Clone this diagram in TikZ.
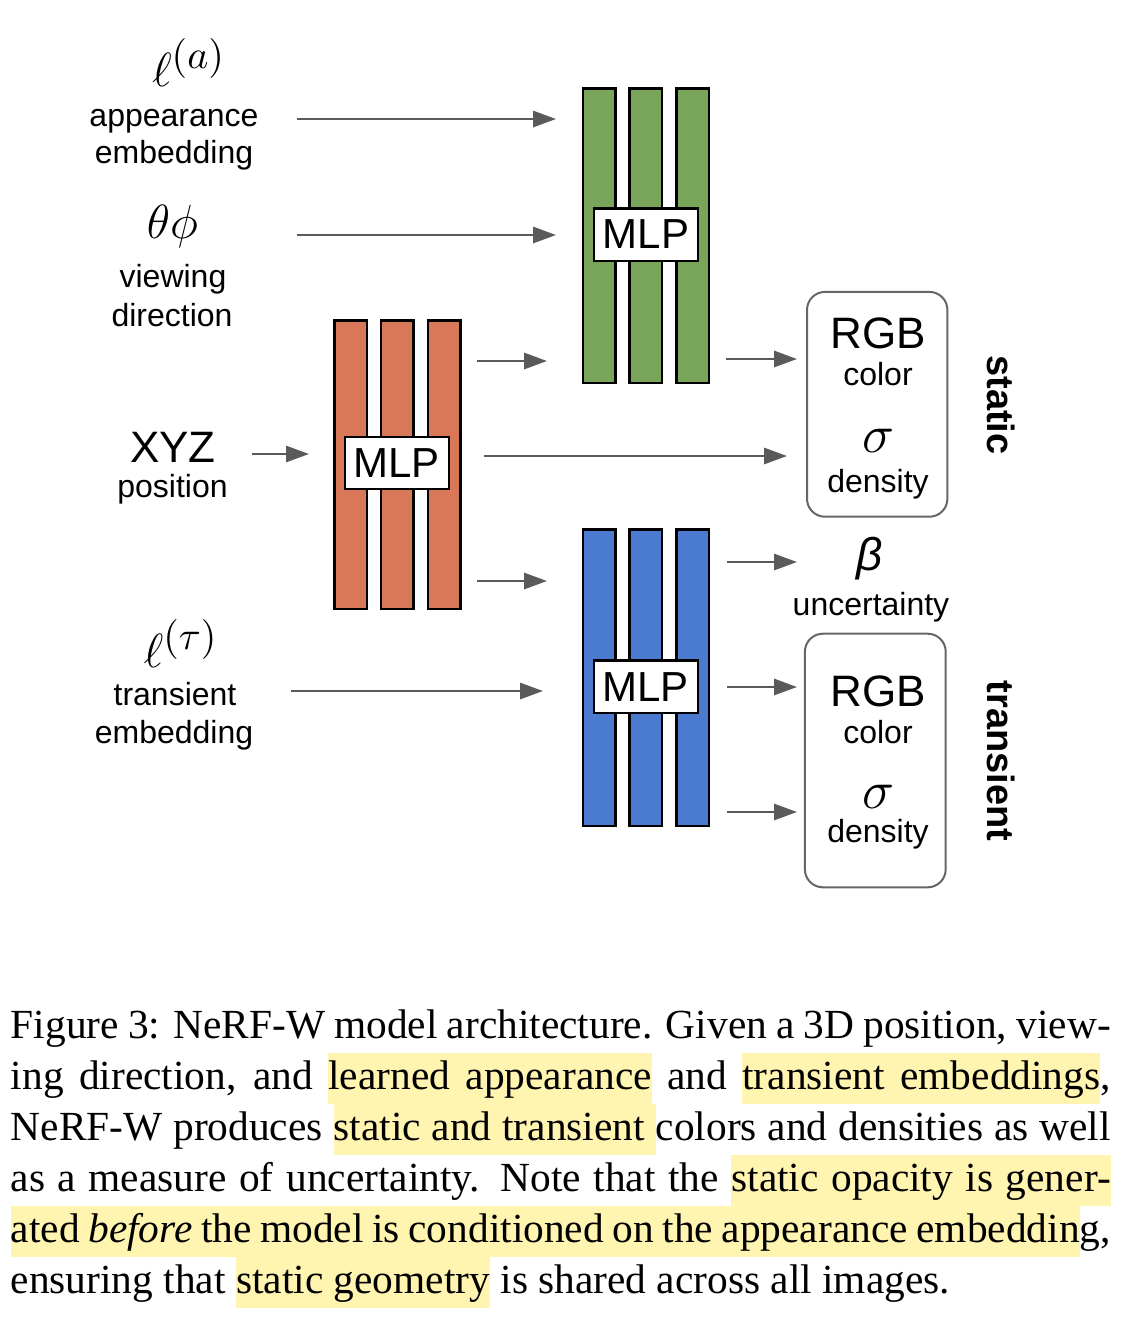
\RequirePackage{fix-cm}
\documentclass[tikz,border=0pt]{standalone}
\usepackage[no-math]{fontspec}
\setmainfont{Liberation Serif}
\newfontfamily\sansf{Liberation Sans}
\usetikzlibrary{arrows.meta}
\definecolor{hly}{HTML}{FFF4B0}
\definecolor{gbar}{HTML}{78A55A}
\definecolor{obar}{HTML}{D97759}
\definecolor{bbar}{HTML}{4A7BD1}
\definecolor{arrgray}{HTML}{5A5A5A}
\definecolor{boxgray}{HTML}{666666}
\newcommand\hlw[1]{{\setlength\fboxsep{0pt}\colorbox{hly}{\strut#1}}}
\newcommand\hlsp{{\color{hly}\leaders\vrule height\ht\strutbox depth\dp\strutbox\hskip\fontdimen2\font plus\fontdimen3\font minus\fontdimen4\font}}
\newcommand\bigsup[1]{^{\mbox{\fontsize{10}{12}\selectfont$#1$}}}
\begin{document}
\begin{tikzpicture}[x=0.25pt,y=-0.25pt,
  mlpbar/.style={draw=black, line width=0.6pt, inner sep=0, minimum width=8.1pt},
  mlp/.style={draw=black, fill=white, line width=0.6pt, inner sep=0, minimum width=26pt, minimum height=13.1pt, font=\sansf\fontsize{10.5}{12}\selectfont},
  outbox/.style={draw=boxgray, line width=0.5pt, rounded corners=4.5pt, inner sep=0},
  lbl/.style={anchor=base, inner sep=0, font=\sansf\fontsize{8}{9.6}\selectfont},
  biglbl/.style={anchor=base, inner sep=0, font=\sansf\fontsize{11}{13}\selectfont},
  mth/.style={anchor=base, inner sep=0, font=\fontsize{12}{14}\selectfont},
  sig/.style={anchor=base, inner sep=0, font=\fontsize{13.5}{15}\selectfont},
  sidelbl/.style={anchor=base, inner sep=0, rotate=-90, font=\sansf\bfseries\fontsize{9.5}{11}\selectfont},
  arr/.style={draw=arrgray, line width=0.65pt, -{Triangle[length=5.7pt,width=4pt]}},
  captext/.style={anchor=base west, inner sep=0, font=\fontsize{10.35}{12.75}\selectfont}
]
\useasboundingbox (0,0) rectangle (1136,1320);
\fill[white] (0,0) rectangle (1136,1320);

% green MLP
\node[mlpbar, fill=gbar, minimum height=73.6pt] (g1) at (599.2,235.5) {};
\node[mlpbar, fill=gbar, minimum height=73.6pt] (g2) at (645.8,235.5) {};
\node[mlpbar, fill=gbar, minimum height=73.6pt] (g3) at (692.5,235.5) {};
\node[mlp] (gm) at (646,234.5) {MLP};
% orange MLP
\node[mlpbar, fill=obar, minimum height=72.1pt] (o1) at (350.5,464.5) {};
\node[mlpbar, fill=obar, minimum height=72.1pt] (o2) at (397.2,464.5) {};
\node[mlpbar, fill=obar, minimum height=72.1pt] (o3) at (444.2,464.5) {};
\node[mlp] (om) at (396.7,463) {MLP};
% blue MLP
\node[mlpbar, fill=bbar, minimum height=74.1pt] (b1) at (599.2,677.8) {};
\node[mlpbar, fill=bbar, minimum height=74.1pt] (b2) at (645.8,677.8) {};
\node[mlpbar, fill=bbar, minimum height=74.1pt] (b3) at (692.5,677.8) {};
\node[mlp] (bm) at (645.7,686.8) {MLP};

% output boxes
\node[outbox, minimum width=35.1pt, minimum height=56.2pt] (sbox) at (877.2,404.3) {};
\node[outbox, minimum width=35.2pt, minimum height=63.4pt] (tbox) at (875.3,760.5) {};

% left labels
\node[mth] (la) at (189,86) {$\ell\bigsup{(a)}$};
\node[lbl] (app) at (174,126) {appearance};
\node[lbl] (emb1) at (174,163) {embedding};
\node[mth] (tp) at (172.5,238) {$\theta\phi$};
\node[lbl] (view) at (173,287) {viewing};
\node[lbl] (dir) at (172,326) {direction};
\node[biglbl] (xyz) at (173,462) {XYZ};
\node[lbl] (pos) at (172.5,497) {position};
\node[mth] (lt) at (181,667) {$\ell\bigsup{(\tau)}$};
\node[lbl] (tr) at (175,705) {transient};
\node[lbl] (emb2) at (174,743) {embedding};

% static outputs
\node[biglbl] (srgb) at (878,348) {RGB};
\node[lbl] (scol) at (878,385) {color};
\node[sig] (ssig) at (878,452) {$\sigma$};
\node[lbl] (sden) at (878,492) {density};
% uncertainty
\node[anchor=base, inner sep=0, font=\sansf\itshape\fontsize{11.5}{13}\selectfont] (beta) at (870,570) {β};
\node[lbl] (unc) at (871,615) {uncertainty};
% transient outputs
\node[biglbl] (trgb) at (878,706) {RGB};
\node[lbl] (tcol) at (878,743) {color};
\node[sig] (tsig) at (878,808) {$\sigma$};
\node[lbl] (tden) at (878,842) {density};

% side labels
\node[sidelbl] (stat) at (987,405) {static};
\node[sidelbl] (trans) at (987,761) {transient};

% arrow end points
\coordinate (a1s) at (297,119); \coordinate (a1e) at (556,119);
\coordinate (a2s) at (297,235); \coordinate (a2e) at (556,235);
\coordinate (a3s) at (477,361); \coordinate (a3e) at (547,361);
\coordinate (a4s) at (252,454); \coordinate (a4e) at (309,454);
\coordinate (a5s) at (484,456); \coordinate (a5e) at (787,456);
\coordinate (a6s) at (477,581); \coordinate (a6e) at (547,581);
\coordinate (a7s) at (291,691); \coordinate (a7e) at (543,691);
\coordinate (a8s) at (726,359); \coordinate (a8e) at (797,359);
\coordinate (a9s) at (727,562); \coordinate (a9e) at (797,562);
\coordinate (a10s) at (727,687); \coordinate (a10e) at (797,687);
\coordinate (a11s) at (727,812); \coordinate (a11e) at (797,812);
\foreach \i in {1,...,11} {\draw[arr] (a\i s) -- (a\i e);}

% caption
\node[captext] (c1) at (10,1038) {\makebox[275pt][s]{Figure 3: NeRF-W model architecture. Given a 3D position, view-}};
\node[captext] (c2) at (10,1089) {\makebox[275pt][s]{ing direction, and \hlw{learned}\hlsp\hlw{appearance} and \hlw{transient}\hlsp\hlw{embeddings},}};
\node[captext] (c3) at (10,1140) {\makebox[275pt][s]{NeRF-W produces \hlw{static}\hlsp\hlw{and}\hlsp\hlw{transient}\hlsp colors and densities as well}};
\node[captext] (c4) at (10,1191) {\makebox[275pt][s]{as a measure of uncertainty. Note that the \hlw{static}\hlsp\hlw{opacity}\hlsp\hlw{is}\hlsp\hlw{gener-}}};
\node[captext] (c5) at (10,1242) {\makebox[275pt][s]{\hlw{ated}\hlsp\hlw{\emph{before}}\hlsp\hlw{the}\hlsp\hlw{model}\hlsp\hlw{is}\hlsp\hlw{conditioned}\hlsp\hlw{on}\hlsp\hlw{the}\hlsp\hlw{appearance}\hlsp\hlw{embeddin}g,}};
\node[captext] (c6) at (10,1293) {ensuring that \hlw{static}\hlsp\hlw{geometry} is shared across all images.};
\end{tikzpicture}
\end{document}
